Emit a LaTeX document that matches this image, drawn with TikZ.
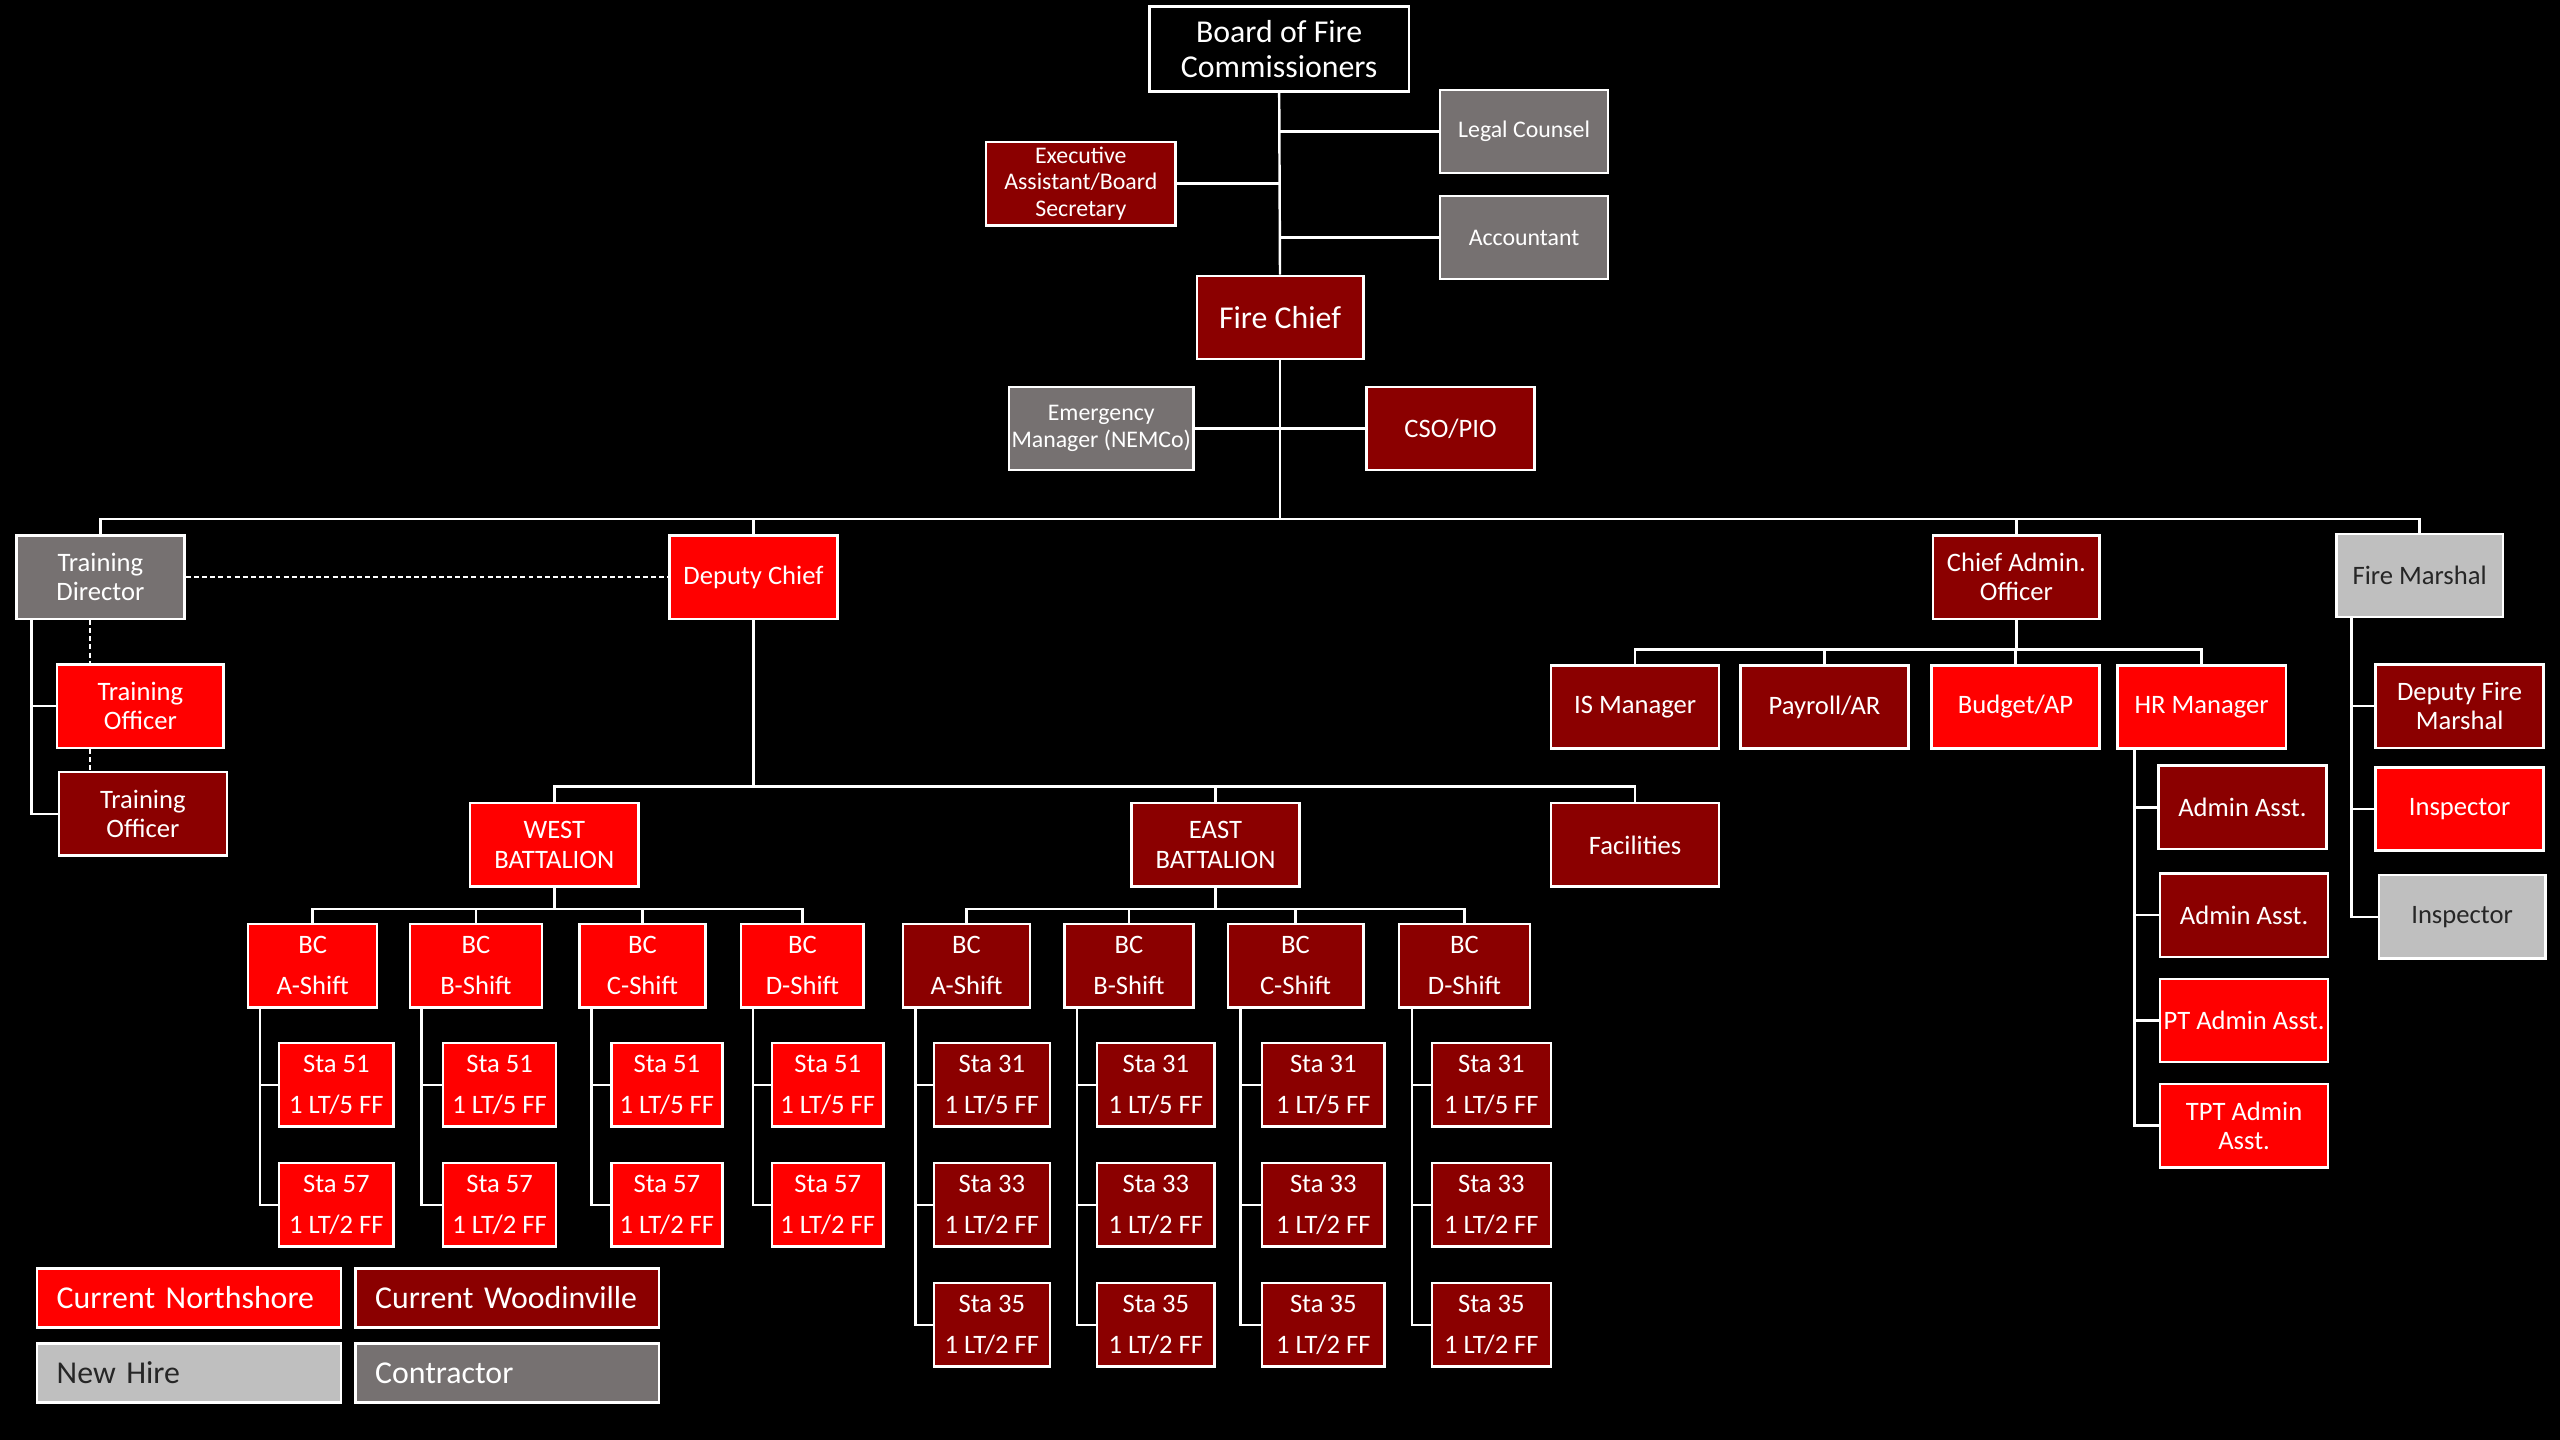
\documentclass[tikz,border=0pt]{standalone}
\usepackage{fontspec}
\setmainfont{Carlito}
\definecolor{nred}{HTML}{FF0000}
\definecolor{dred}{HTML}{8B0000}
\definecolor{mgray}{HTML}{767171}
\definecolor{lgray}{HTML}{BFBFBF}
\begin{document}
\begin{tikzpicture}[x=1pt,y=-1pt,
	box/.style={draw=white,line width=1.5pt,minimum width=103pt,minimum height=51pt,inner sep=1pt,align=center,text=white,font=\fontsize{16.3}{18}\selectfont},
	nsh/.style={box,fill=nred},
	wdv/.style={box,fill=dred},
	hire/.style={box,fill=lgray,text=black!85},
	ctr/.style={box,fill=mgray},
	smalltxt/.style={font=\fontsize{14.6}{16.5}\selectfont},
	bigtxt/.style={font=\fontsize{19.5}{21.5}\selectfont},
	twoline/.style={font=\fontsize{16.3}{25}\selectfont},
	conn/.style={draw=white,line width=1.5pt},
	tdash/.style={draw=white,line width=1pt,dash pattern=on 3pt off 2pt},
	key/.style={anchor=west,minimum height=36pt,text width=162pt,align=left,inner xsep=12pt,font=\fontsize{19.5}{21.5}\selectfont}]
	\fill[black] (0,0) rectangle (1568,882);
	\useasboundingbox (0,0) rectangle (1568,882);
	% top of the chart
	\node[box,fill=black,bigtxt,minimum width=159pt,minimum height=52pt] (board) at (783.5,30) {Board of Fire\\Commissioners};
	\node[ctr,smalltxt] (legal) at (933.5,80.5) {Legal Counsel};
	\node[ctr,smalltxt] (acct) at (933.5,145.5) {Accountant};
	\node[wdv,smalltxt,minimum width=116pt,font=\fontsize{14.6}{16}\selectfont] (exec) at (662,112.5) {Executive\\Assistant/Board\\Secretary};
	\node[wdv,bigtxt,minimum width=102pt] (chief) at (784,194.5) {Fire Chief};
	\node[ctr,smalltxt,minimum width=113pt] (em) at (674.5,262.5) {Emergency\\Manager (NEMCo)};
	\node[wdv] (cso) at (888.5,262.5) {CSO/PIO};
	\draw[conn] (board.south) -- (chief.north);
	\draw[conn] (legal.west) -- (legal.west -| chief.north);
	\draw[conn] (acct.west) -- (acct.west -| chief.north);
	\draw[conn] (exec.east) -- (exec.east -| chief.north);
	\draw[conn] (em.east) -- (cso.west);
	% second level
	\node[ctr] (td) at (61.5,353.5) {Training\\Director};
	\node[nsh] (dep) at (461.5,353.5) {Deputy Chief};
	\node[wdv,minimum width=102pt] (cao) at (1235,353.5) {Chief Admin.\\Officer};
	\node[hire,minimum width=102pt] (fm) at (1482,352.5) {Fire Marshal};
	\draw[conn] (chief.south) -- ++(0,97) coordinate (cbus);
	\foreach \n in {td,dep,cao,fm}
		\draw[conn] (cbus) -| (\n.north);
	\draw[tdash] (td.east) -- (dep.west);
	% training
	\node[nsh,minimum width=102pt] (to1) at (86,432.5) {Training\\Officer};
	\node[wdv] (to2) at (87.5,498.5) {Training\\Officer};
	\coordinate (tdv) at ([xshift=10pt]td.south west);
	\coordinate (tdx) at ([xshift=46pt]td.south west);
	\draw[conn] (tdv) |- (to1.west);
	\draw[conn] (tdv) |- (to2.west);
	\draw[tdash] (tdx) -- (tdx |- to1.north);
	\draw[tdash] (tdx |- to1.south) -- (tdx |- to2.north);
	% deputy chief
	\node[nsh] (west) at (339.5,517.5) {WEST\\BATTALION};
	\node[wdv] (east) at (744.5,517.5) {EAST\\BATTALION};
	\node[wdv] (fac) at (1001.5,517.5) {Facilities};
	\draw[conn] (dep.south) -- ++(0,102) coordinate (dbus);
	\foreach \n in {west,east,fac}
		\draw[conn] (dbus) -| (\n.north);
	% west battalion
	\draw[conn] (west.south) -- ++(0,13) coordinate (wbus);
	\foreach \s/\x/\w/\sx/\sw in {A/191.5/79/206/70,B/291.5/81/306/69,C/393.5/77/408.5/68,D/491.5/75/507/68}{
		\node[nsh,twoline,minimum width=\w pt] (wbc\s) at (\x,591.5) {BC\\\s-Shift};
		\node[nsh,twoline,minimum width=\sw pt] (wst\s1) at (\sx,664.5) {Sta 51\\1 LT/5 FF};
		\node[nsh,twoline,minimum width=\sw pt] (wst\s2) at (\sx,738) {Sta 57\\1 LT/2 FF};
		\draw[conn] (wbus) -| (wbc\s.north);
		\coordinate (wv\s) at ([xshift=8pt]wbc\s.south west);
		\draw[conn] (wv\s) |- (wst\s1.west);
		\draw[conn] (wv\s) |- (wst\s2.west);
	}
	% east battalion
	\draw[conn] (east.south) -- ++(0,13) coordinate (ebus);
	\foreach \s/\x/\w/\sx/\sw in {A/592/78/607.5/71,B/691.5/79/708/72,C/793.5/83/810.5/75,D/897/80/913.5/73}{
		\node[wdv,twoline,minimum width=\w pt] (ebc\s) at (\x,591.5) {BC\\\s-Shift};
		\node[wdv,twoline,minimum width=\sw pt] (est\s1) at (\sx,664.5) {Sta 31\\1 LT/5 FF};
		\node[wdv,twoline,minimum width=\sw pt] (est\s2) at (\sx,738) {Sta 33\\1 LT/2 FF};
		\node[wdv,twoline,minimum width=\sw pt] (est\s3) at (\sx,811.5) {Sta 35\\1 LT/2 FF};
		\draw[conn] (ebus) -| (ebc\s.north);
		\coordinate (ev\s) at ([xshift=8.5pt]ebc\s.south west);
		\foreach \k in {1,2,3}
			\draw[conn] (ev\s) |- (est\s\k.west);
	}
	% chief admin officer
	\node[wdv] (ism) at (1001.5,433) {IS Manager};
	\node[wdv] (pay) at (1117.5,433) {Payroll/AR};
	\node[nsh] (bud) at (1234.5,433) {Budget/AP};
	\node[nsh] (hrm) at (1348.5,433) {HR Manager};
	\draw[conn] (cao.south) -- ++(0,18) coordinate (abus);
	\foreach \n in {ism,pay,bud,hrm}
		\draw[conn] (abus) -| (\n.north);
	\node[wdv] (aa1) at (1373.5,494.5) {Admin Asst.};
	\node[wdv] (aa2) at (1374.5,560.5) {Admin Asst.};
	\node[nsh] (pta) at (1374.5,625) {PT Admin Asst.};
	\node[nsh] (tpt) at (1374.5,689.5) {TPT Admin\\Asst.};
	\coordinate (hrv) at ([xshift=11pt]hrm.south west);
	\foreach \n in {aa1,aa2,pta,tpt}
		\draw[conn] (hrv) |- (\n.west);
	% fire marshal
	\node[wdv] (dfm) at (1506.5,432.5) {Deputy Fire\\Marshal};
	\node[nsh] (ins1) at (1506.5,495.5) {Inspector};
	\node[hire,minimum width=102pt] (ins2) at (1508,561.5) {Inspector};
	\coordinate (fmv) at ([xshift=10pt]fm.south west);
	\foreach \n in {dfm,ins1,ins2}
		\draw[conn] (fmv) |- (\n.west);
	% legend
	\node[nsh,key] (kn) at (22,795) {Current Northshore};
	\node[wdv,key] (kw) at (217,795) {Current Woodinville};
	\node[hire,key] (kh) at (22,841) {New Hire};
	\node[ctr,key] (kc) at (217,841) {Contractor};
\end{tikzpicture}
\end{document}
